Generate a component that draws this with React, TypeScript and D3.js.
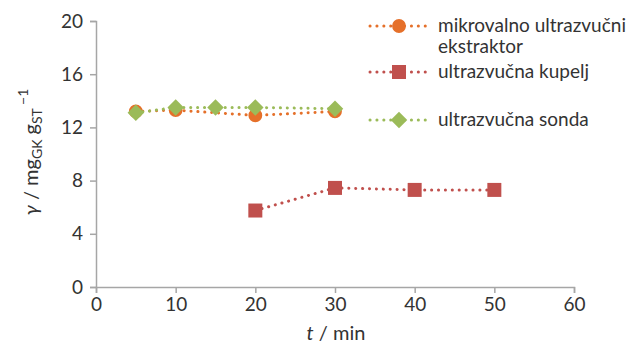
import { useEffect, useRef } from 'react';
import * as d3 from 'd3';

const W = 642;
const H = 346;

// Series data (t / min, γ / mg g^-1)
const MW_T = [5, 10, 20, 30];
const MW_Y = [13.2, 13.3, 12.9, 13.2];
const BATH_T = [20, 30, 40, 50];
const BATH_Y = [5.75, 7.45, 7.3, 7.3];
const PROBE_T = [5, 10, 15, 20, 30];
const PROBE_Y = [13.1, 13.5, 13.5, 13.5, 13.4];

const X_TICKS = [0, 10, 20, 30, 40, 50, 60];
const Y_TICKS = [0, 4, 8, 12, 16, 20];

const C_ORANGE = "#E5702A";
const C_RED = "#C0504D";
const C_GREEN = "#9BBB59";
const C_AXIS = "#A6A6A6";
const C_TEXT = "#333333";
const FONT = "Lato, 'Open Sans', sans-serif";

const SERIES = [
  { name: "mikrovalno ultrazvučni", name2: "ekstraktor", t: MW_T, y: MW_Y, color: C_ORANGE, shape: "circle" },
  { name: "ultrazvučna kupelj", name2: "", t: BATH_T, y: BATH_Y, color: C_RED, shape: "square" },
  { name: "ultrazvučna sonda", name2: "", t: PROBE_T, y: PROBE_Y, color: C_GREEN, shape: "diamond" },
];

export default function App() {
  const ref = useRef<SVGSVGElement>(null);

  useEffect(() => {
    if (!ref.current) return;
    const svg = d3.select(ref.current);
    svg.selectAll("*").remove();

    const x = d3.scaleLinear().domain([0, 60]).range([96, 574]);
    const y = d3.scaleLinear().domain([0, 20]).range([287, 21]);

    // axes
    const yAxis = svg.append("g")
      .attr("transform", `translate(${x(0)},0)`)
      .call(d3.axisLeft(y).tickValues(Y_TICKS).tickSize(6).tickPadding(7));
    const xAxis = svg.append("g")
      .attr("transform", `translate(0,${y(0)})`)
      .call(d3.axisBottom(x).tickValues(X_TICKS).tickSize(6).tickPadding(5));

    [yAxis, xAxis].forEach(a => {
      a.select(".domain").attr("stroke", C_AXIS).attr("stroke-width", 1.5);
      a.selectAll(".tick line").attr("stroke", C_AXIS).attr("stroke-width", 1.5);
      a.selectAll(".tick text")
        .attr("fill", C_TEXT)
        .attr("font-size", 19)
        .attr("font-family", FONT);
    });

    // marker shapes (diamond = square rotated 45°)
    const markerPath = (shape: string) =>
      shape === "circle" ? d3.symbol(d3.symbolCircle, 150)() as string
      : d3.symbol(d3.symbolSquare, shape === "square" ? 196 : 136)() as string;
    const markerRot = (shape: string) => shape === "diamond" ? " rotate(45)" : "";

    const line = d3.line<[number, number]>()
      .x(d => x(d[0]))
      .y(d => y(d[1]));

    // draw order: orange, red, green on top
    SERIES.forEach(s => {
      const pts: [number, number][] = s.t.map((t, i) => [t, s.y[i]]);
      svg.append("path")
        .attr("d", line(pts))
        .attr("fill", "none")
        .attr("stroke", s.color)
        .attr("stroke-width", 3)
        .attr("stroke-linecap", "round")
        .attr("stroke-dasharray", "0.1 6.8");
      svg.append("g")
        .selectAll("path")
        .data(pts)
        .join("path")
        .attr("transform", d => `translate(${x(d[0])},${y(d[1])})${markerRot(s.shape)}`)
        .attr("d", markerPath(s.shape))
        .attr("fill", s.color);
    });

    // legend
    const legendRows = [26, 72, 120];
    SERIES.forEach((s, i) => {
      const g = svg.append("g").attr("transform", `translate(0,${legendRows[i]})`);
      g.append("line")
        .attr("x1", 370).attr("x2", 428).attr("y1", 0).attr("y2", 0)
        .attr("stroke", s.color)
        .attr("stroke-width", 3)
        .attr("stroke-linecap", "round")
        .attr("stroke-dasharray", "0.1 6.8");
      g.append("path")
        .attr("transform", `translate(399,0)${markerRot(s.shape)}`)
        .attr("d", markerPath(s.shape))
        .attr("fill", s.color);
      g.append("text")
        .attr("x", 438)
        .attr("y", 6)
        .attr("fill", C_TEXT)
        .attr("font-size", 19)
        .attr("font-family", FONT)
        .text(s.name);
      if (s.name2) {
        g.append("text")
          .attr("x", 438)
          .attr("y", 27)
          .attr("fill", C_TEXT)
          .attr("font-size", 19)
          .attr("font-family", FONT)
          .text(s.name2);
      }
    });

    // x axis title
    const xt = svg.append("text")
      .attr("x", 336)
      .attr("y", 340)
      .attr("text-anchor", "middle")
      .attr("fill", C_TEXT)
      .attr("font-size", 20)
      .attr("font-family", FONT);
    xt.append("tspan").attr("font-style", "italic").text("t");
    xt.append("tspan").text(" / min");

    // y axis title
    const yt = svg.append("text")
      .attr("transform", "translate(38,152) rotate(-90)")
      .attr("text-anchor", "middle")
      .attr("fill", C_TEXT)
      .attr("font-size", 20)
      .attr("font-family", FONT);
    yt.append("tspan").attr("font-style", "italic").text("γ");
    yt.append("tspan").text(" / mg");
    yt.append("tspan").attr("font-size", 14).attr("dy", 4).text("GK");
    yt.append("tspan").attr("dy", -4).text(" g");
    yt.append("tspan").attr("font-size", 14).attr("dy", 4).text("ST");
    yt.append("tspan").attr("font-size", 14).attr("dy", -14).text(" −1");
  }, []);

  return (
    <div style={{ position: 'fixed', left: 0, top: 0, background: '#fff' }}>
      <svg ref={ref} width={W} height={H} />
    </div>
  );
}
